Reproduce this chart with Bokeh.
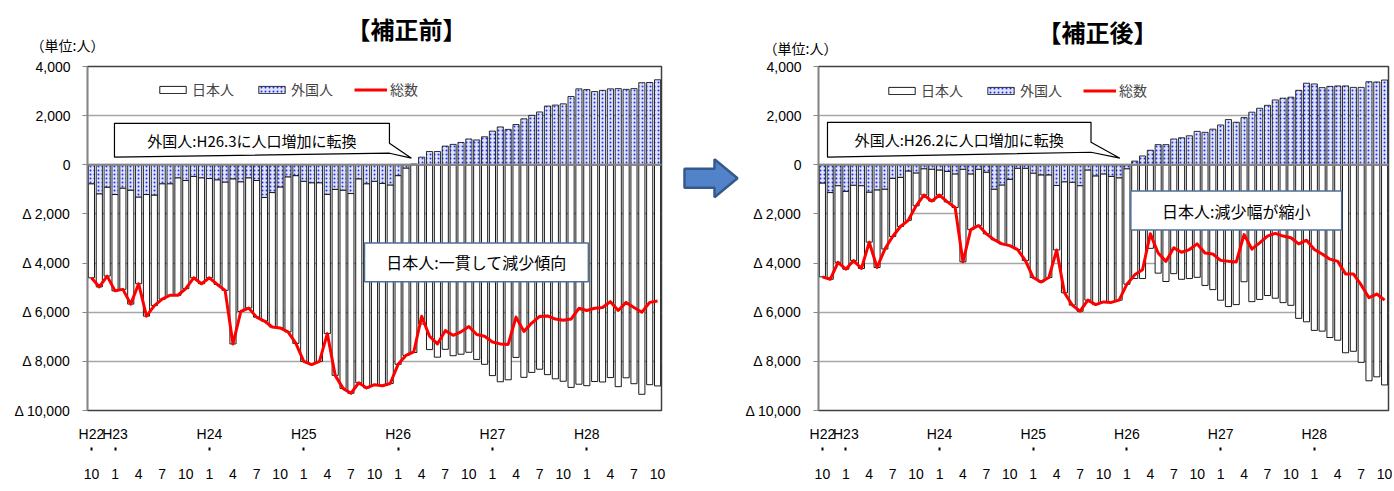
import numpy as np
from bokeh.plotting import figure
from bokeh.models import (Range1d, LinearAxis, FixedTicker, Legend, LegendItem, Span,
                          Label, PolyAnnotation, BoxAnnotation, ColumnDataSource)
from bokeh.layouts import row, column
from bokeh.core.properties import value
from bokeh.embed import file_html
from bokeh.resources import INLINE

# ---------------- categories: months H22.10 ... H28.10 ----------------
era_labels = ["H22", "H23", "H24", "H25", "H26", "H27", "H28"]
month_numbers = ([10, 11, 12]
                 + [1, 2, 3, 4, 5, 6, 7, 8, 9, 10, 11, 12] * 5
                 + [1, 2, 3, 4, 5, 6, 7, 8, 9, 10])
y_ticks = [-10000, -8000, -6000, -4000, -2000, 0, 2000, 4000]
y_tick_labels = ["Δ 10,000", "Δ 8,000", "Δ 6,000", "Δ 4,000", "Δ 2,000", "0", "2,000", "4,000"]
titles = ["【補正前】", "【補正後】"]
unit_text = "（単位:人）"
legend_labels = ["日本人", "外国人", "総数"]

# ---------------- 【補正前】 ----------------
before_foreign = [-770, -1180, -910, -1210, -950, -1030, -1310, -1210, -1230, -770,
                  -770, -530, -640, -470, -530, -560, -610, -700, -570, -690,
                  -530, -640, -1330, -1130, -900, -490, -440, -670, -730, -730,
                  -1200, -1000, -1030, -1170, -570, -770, -670, -760, -820, -440,
                  -130, 30, 310, 540, 540, 760, 830, 910, 1050, 1010,
                  1140, 1370, 1540, 1440, 1640, 1870, 2010, 2150, 2390, 2430,
                  2480, 2780, 3090, 3060, 2980, 3030, 3090, 3100, 3070, 3100,
                  3340, 3350, 3460]
before_total = [-4600, -4970, -4530, -5130, -5070, -5670, -4840, -6160, -5730, -5470,
                -5310, -5310, -5040, -4600, -4840, -4600, -4870, -5110, -7290, -5970,
                -5830, -6200, -6360, -6600, -6640, -6800, -7270, -8000, -8130, -8000,
                -6870, -8570, -9100, -9300, -8870, -9080, -8950, -8990, -8900, -8120,
                -7760, -7610, -6170, -6980, -7290, -6750, -6940, -6800, -6580, -6910,
                -6980, -7210, -7290, -7310, -6200, -6780, -6440, -6170, -6150, -6280,
                -6330, -6280, -5840, -5930, -5840, -5810, -5570, -5930, -5600, -5810,
                -6000, -5600, -5540]

# ---------------- 【補正後】 ----------------
after_foreign = [-740, -1130, -850, -1080, -830, -850, -1110, -1020, -990, -550,
                 -510, -250, -330, -160, -180, -210, -270, -370, -180, -370,
                 -180, -300, -990, -820, -590, -140, -140, -340, -410, -410,
                 -840, -690, -710, -850, -210, -450, -370, -470, -530, -160,
                 150, 360, 590, 820, 820, 1050, 1100, 1180, 1360, 1320,
                 1450, 1620, 1840, 1730, 1920, 2140, 2300, 2420, 2640, 2710,
                 2750, 3030, 3320, 3290, 3140, 3190, 3210, 3210, 3150, 3150,
                 3380, 3370, 3450]
after_total = [-4560, -4660, -3970, -4250, -3900, -4220, -3150, -4180, -3430, -2920,
               -2510, -2260, -1670, -1230, -1480, -1230, -1510, -1740, -3950, -2640,
               -2470, -2810, -3050, -3220, -3290, -3450, -3900, -4590, -4770, -4590,
               -3470, -5210, -5710, -5960, -5510, -5690, -5580, -5600, -5510, -4860,
               -4480, -4270, -2810, -3590, -3930, -3380, -3560, -3450, -3220, -3590,
               -3630, -3890, -3930, -3960, -2840, -3430, -3180, -2900, -2790, -2900,
               -2970, -3220, -3070, -3450, -3630, -3840, -3930, -4440, -4440, -4890,
               -5410, -5260, -5510]

JP = "Noto Sans CJK JP"
NUM = "Liberation Sans"
W1, WA, W2 = 672, 70, 650
HEAD_H, BODY_H = 56, 434


def make_panel(foreign, total, width, border_left, border_right,
               legend_loc, callout_f, callout_f_text, callout_j, callout_j_text):
    n = len(month_numbers)
    xs = np.arange(1, n + 1)
    fg = np.array(foreign, dtype=float)
    tot = np.array(total, dtype=float)
    jp = tot - fg
    jp_start = np.minimum(fg, 0)
    jp_end = jp_start + jp
    src = ColumnDataSource(dict(x=xs, fg=fg, zero=np.zeros(n), jp_a=jp_start, jp_b=jp_end, tot=tot))

    p = figure(width=width, height=BODY_H, x_range=Range1d(0.5, n + 0.5),
               y_range=Range1d(-10000, 4000), x_axis_type=None,
               toolbar_location=None, output_backend="svg",
               min_border_left=border_left, min_border_right=border_right,
               min_border_top=10, min_border_bottom=80)
    p.background_fill_color = "white"
    p.border_fill_color = "white"
    p.outline_line_color = "#404040"
    p.outline_line_width = 1.5

    # y axis
    yax = p.yaxis[0]
    yax.ticker = FixedTicker(ticks=y_ticks)
    yax.major_label_overrides = {t: s for t, s in zip(y_ticks, y_tick_labels)}
    yax.axis_line_color = "#868686"
    yax.axis_line_width = 1.5
    yax.major_tick_line_color = "#868686"
    yax.major_tick_out = 5
    yax.major_tick_in = 0
    yax.minor_tick_line_color = None
    yax.major_label_standoff = 12
    yax.major_label_text_font = NUM
    yax.major_label_text_font_size = "14px"
    yax.major_label_text_color = "black"
    p.ygrid.ticker = FixedTicker(ticks=y_ticks)
    p.ygrid.grid_line_color = "#A6A6A6"
    p.ygrid.grid_line_width = 1.3

    # x axes: era labels, small marks, month numbers
    year_pos = [int(i + 1) for i, m in enumerate(month_numbers) if i == 0 or m == 1]
    month_pos = [int(i + 1) for i in range(0, n, 3)]

    def base_axis(ticks, labels, standoff, size):
        ax = LinearAxis(ticker=FixedTicker(ticks=ticks, minor_ticks=[]),
                        major_label_overrides={t: s for t, s in zip(ticks, labels)})
        ax.axis_line_color = None
        ax.major_tick_line_color = None
        ax.minor_tick_line_color = None
        ax.major_tick_out = 0
        ax.major_tick_in = 0
        ax.minor_tick_out = 0
        ax.minor_tick_in = 0
        ax.major_label_standoff = standoff
        ax.major_label_text_font = NUM
        ax.major_label_text_font_size = size
        ax.major_label_text_color = "black"
        return ax

    p.add_layout(base_axis(year_pos, era_labels, 15, "14px"), "below")
    ax_mark = base_axis(year_pos, [""] * len(year_pos), 0, "1px")
    ax_mark.major_tick_line_color = "black"
    ax_mark.major_tick_line_width = 2
    ax_mark.major_tick_in = -3
    ax_mark.major_tick_out = 6
    p.add_layout(ax_mark, "below")
    p.add_layout(base_axis(month_pos, [str(month_numbers[i - 1]) for i in month_pos],
                           18, "14px"), "below")

    # bars and line
    r_jp = p.vbar(x="x", top="jp_a", bottom="jp_b", width=0.78, source=src,
                  fill_color="white", line_color="black", line_width=0.9)
    r_fg = p.vbar(x="x", top="fg", bottom="zero", width=0.78, source=src,
                  fill_color="#DDE3FF", hatch_pattern="dot", hatch_color="#1F2FE8",
                  hatch_scale=4, hatch_weight=1.2, line_color="black", line_width=0.8)
    r_ln = p.line(x="x", y="tot", source=src, line_color="#FF0000", line_width=3,
                  line_join="round")

    p.add_layout(Span(location=0, dimension="width", line_color="#868686", line_width=2))

    legend = Legend(items=[LegendItem(label=legend_labels[0], renderers=[r_jp]),
                           LegendItem(label=legend_labels[1], renderers=[r_fg]),
                           LegendItem(label=legend_labels[2], renderers=[r_ln])],
                    orientation="horizontal", location=legend_loc,
                    label_text_font=JP, label_text_font_size="14px",
                    glyph_width=33, glyph_height=9, label_height=14, label_standoff=3,
                    spacing=21, padding=0, margin=0, border_line_color=None,
                    background_fill_alpha=0)
    p.add_layout(legend)

    # callout: foreign turning point (box with pointer)
    L, R, T, B, ya, yb, tx, ty = callout_f
    p.add_layout(PolyAnnotation(xs=[L, R, R, tx, R, L], ys=[T, T, ya, ty, yb, B],
                                fill_color="white", fill_alpha=1.0,
                                line_color="black", line_alpha=1.0, line_width=1.2))
    p.add_layout(Label(x=(L + R) / 2, y=(T + B) / 2, text=callout_f_text,
                       text_align="center", text_baseline="middle",
                       text_font=JP, text_font_size="15px", text_color="black"))
    # callout: Japanese
    L, R, T, B = callout_j
    p.add_layout(BoxAnnotation(left=L, right=R, top=T, bottom=B,
                               fill_color="white", fill_alpha=1.0,
                               line_color="#4F6F99", line_alpha=1.0, line_width=1.5))
    p.add_layout(Label(x=(L + R) / 2, y=(T + B) / 2, text=callout_j_text,
                       text_align="center", text_baseline="middle",
                       text_font=JP, text_font_size="16px", text_color="black"))
    return p


p1 = make_panel(before_foreign, before_total, width=W1, border_left=87, border_right=11,
                legend_loc=(69, 311),
                callout_f=(3.93, 38.9, 1688, 308, 877, 471, 41.7, 268),
                callout_f_text="外国人:H26.3に人口増加に転換",
                callout_j=(35.73, 64.2, -3181, -4764),
                callout_j_text="日本人:一貫して減少傾向")

p2 = make_panel(after_foreign, after_total, width=W2, border_left=73, border_right=4,
                legend_loc=(67, 310),
                callout_f=(1.65, 35.4, 1729, 308, 918, 511, 39.1, 268),
                callout_f_text="外国人:H26.2に人口増加に転換",
                callout_j=(40.5, 67.5, -1071, -2654),
                callout_j_text="日本人:減少幅が縮小")

# header strip: titles and unit notes (page-pixel coordinates)
head = figure(width=W1 + WA + W2, height=HEAD_H, x_range=Range1d(0, W1 + WA + W2),
              y_range=Range1d(HEAD_H, 0), x_axis_type=None, y_axis_type=None,
              toolbar_location=None, output_backend="svg", min_border=0)
head.outline_line_color = None
head.text(x=[406, 1097], y=[28, 31], text=titles, text_font=value(JP),
          text_font_size="24px", text_font_style="bold", text_align="center",
          text_baseline="middle", text_color="black")
head.text(x=[30, 763], y=[44, 47], text=[unit_text, unit_text], text_font=value(JP),
          text_font_size="14px", text_align="left", text_baseline="middle",
          text_color="black")

# block arrow between the panels (page-pixel coordinates of the small figure)
pa = figure(width=WA, height=BODY_H, x_range=Range1d(W1, W1 + WA),
            y_range=Range1d(HEAD_H + BODY_H, HEAD_H),
            x_axis_type=None, y_axis_type=None, toolbar_location=None,
            output_backend="svg", min_border=0)
pa.outline_line_color = None
pa.background_fill_color = "white"
pa.border_fill_color = "white"
arrow_x = [684, 714, 714, 737, 714, 714, 684]
arrow_y = [185, 185, 173, 197, 221, 209, 209]
pa.patch(arrow_x, arrow_y, fill_color="#5283C8", line_color="#36598C", line_width=2.5)

layout = column(head, row(p1, pa, p2))
open("out.html", "w").write(file_html(layout, INLINE, "chart"))
